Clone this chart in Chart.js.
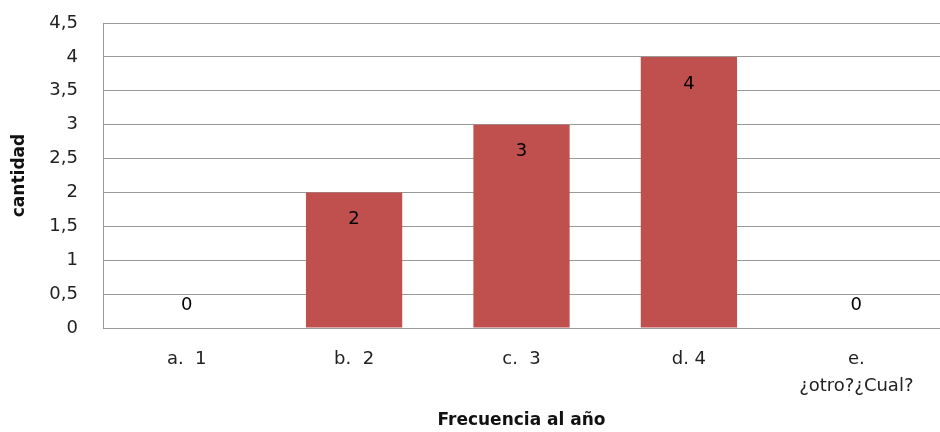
<!DOCTYPE html>
<html>
<head>
<meta charset="utf-8">
<script src="https://cdn.jsdelivr.net/npm/chart.js@4.4.1/dist/chart.umd.min.js"></script>
<style>
html,body{margin:0;padding:0;background:#fff;}
#wrap{width:940px;height:432px;}
</style>
</head>
<body>
<div id="wrap"><canvas id="c" width="940" height="432"></canvas></div>
<script>
const categories = ["a.  1", "b.  2", "c.  3", "d. 4", ["e.", "¿otro?¿Cual?"]];
const values = [0, 2, 3, 4, 0];
const yTicks = [0, 0.5, 1, 1.5, 2, 2.5, 3, 3.5, 4, 4.5];
const yTitle = "cantidad";
const xTitle = "Frecuencia al año";

const FONT = "'DejaVu Sans', sans-serif";

const labelPlugin = {
  id: 'barLabels',
  afterDatasetsDraw(chart) {
    const ctx = chart.ctx;
    const meta = chart.getDatasetMeta(0);
    ctx.save();
    ctx.font = "18px " + FONT;
    ctx.fillStyle = "#000";
    ctx.textAlign = "center";
    ctx.textBaseline = "middle";
    meta.data.forEach((bar, i) => {
      const v = values[i];
      const y = v > 0 ? bar.y + 27 : bar.base - 23;
      ctx.fillText(String(v).replace('.', ','), bar.x, y);
    });
    ctx.restore();
  }
};

new Chart(document.getElementById('c'), {
  type: 'bar',
  data: {
    labels: categories,
    datasets: [{
      data: values,
      backgroundColor: '#C0504D',
      borderWidth: 0,
      barPercentage: 0.575,
      categoryPercentage: 1.0
    }]
  },
  options: {
    responsive: false,
    animation: false,
    devicePixelRatio: 1,
    layout: { padding: { top: 23, right: 0, bottom: 0, left: 0 } },
    plugins: { legend: { display: false }, tooltip: { enabled: false } },
    scales: {
      x: {
        grid: { display: false, drawTicks: false },
        border: { display: true, color: '#999', width: 1 },
        ticks: {
          color: '#222',
          font: { family: FONT, size: 18, lineHeight: 1.5 },
          padding: 18,
          maxRotation: 0,
          autoSkip: false
        },
        title: {
          display: true,
          text: xTitle,
          color: '#111',
          font: { family: FONT, size: 17, weight: 'bold' },
          padding: { top: 0, bottom: 1 }
        },
        afterFit(scale) { scale.height = 104; }
      },
      y: {
        min: 0,
        max: 4.5,
        afterBuildTicks(scale) { scale.ticks = yTicks.map(v => ({ value: v })); },
        grid: { color: '#999', lineWidth: 1, drawTicks: false },
        border: { display: true, color: '#999', width: 1 },
        ticks: {
          color: '#222',
          font: { family: FONT, size: 18 },
          padding: 25,
          callback: (v) => String(v).replace('.', ',')
        },
        title: {
          display: true,
          text: yTitle,
          color: '#111',
          font: { family: FONT, size: 17, weight: 'bold' },
          padding: { top: 9, bottom: 0 }
        },
        afterFit(scale) { scale.width = 103; scale.paddingTop = 0; scale.paddingBottom = 0; }
      }
    }
  },
  plugins: [labelPlugin]
});
</script>
</body>
</html>
